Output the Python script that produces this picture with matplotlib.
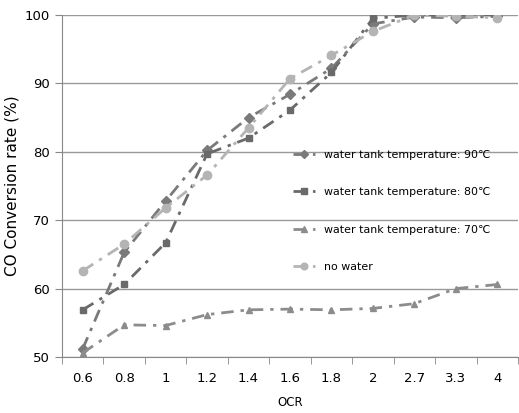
import matplotlib
matplotlib.use("Agg")
import matplotlib.pyplot as plt
import numpy as np

plt.rcParams['font.family'] = ['DejaVu Sans']

ocr_labels = ["0.6", "0.8", "1", "1.2", "1.4", "1.6", "1.8", "2", "2.7", "3.3", "4"]
t90 = [51.2, 65.3, 72.8, 80.2, 85.0, 88.4, 92.2, 98.7, 99.7, 99.6, 99.8]
t80 = [56.9, 60.6, 66.7, 79.7, 82.0, 86.1, 91.6, 99.5, 100.0, 100.0, 100.0]
t70 = [50.6, 54.7, 54.6, 56.2, 56.9, 57.0, 56.9, 57.1, 57.8, 60.0, 60.6]
nowater = [62.6, 66.5, 71.8, 76.6, 83.5, 90.7, 94.1, 97.6, 100.0, 99.8, 99.6]

fig = plt.figure(figsize=(5.19, 4.13), dpi=100)
ax = fig.add_axes([62/519, 1-357/413, 456/519, 342/413])
x = np.arange(len(ocr_labels))

dash = (0, (4.5, 2.5, 1.2, 2.5))
ax.plot(x, t90, color='#7a7a7a', ls=dash, lw=2, marker='D', ms=5, label='water tank temperature: 90\u2103')
ax.plot(x, t80, color='#6a6a6a', ls=dash, lw=2, marker='s', ms=5, label='water tank temperature: 80\u2103')
ax.plot(x, t70, color='#8c8c8c', ls=dash, lw=2, marker='^', ms=5, label='water tank temperature: 70\u2103')
ax.plot(x, nowater, color='#b4b4b4', ls=dash, lw=2, marker='o', ms=6, label='no water')

ax.set_xlim(-0.5, len(ocr_labels) - 0.5)
ax.set_ylim(50, 100)
ax.set_yticks([50, 60, 70, 80, 90, 100])
ax.set_xticks(x)
ax.set_xticklabels(ocr_labels)
ax.set_xticks(np.arange(-0.5, len(ocr_labels)), minor=True)
ax.tick_params(axis='x', which='major', length=0, pad=11, labelsize=9.5)
ax.tick_params(axis='x', which='minor', length=5, color='#888888', direction='out')
ax.tick_params(axis='y', length=5, color='#888888', labelsize=9.5)
ax.yaxis.grid(True, color='#999999', lw=1)
ax.set_axisbelow(True)
for s in ['top', 'right']:
    ax.spines[s].set_visible(False)
for s in ['left', 'bottom']:
    ax.spines[s].set_color('#888888')

ax.set_ylabel('CO Conversion rate (%)', fontsize=11)
ax.set_xlabel('OCR', fontsize=8.5, labelpad=8)

leg = ax.legend(loc='upper left', bbox_to_anchor=(283/519, 1-140/413), bbox_transform=fig.transFigure,
                frameon=False, fontsize=7.9, labelspacing=2.5, handlelength=2.0, markerscale=0.8)

fig.savefig('out.png', dpi=100)
